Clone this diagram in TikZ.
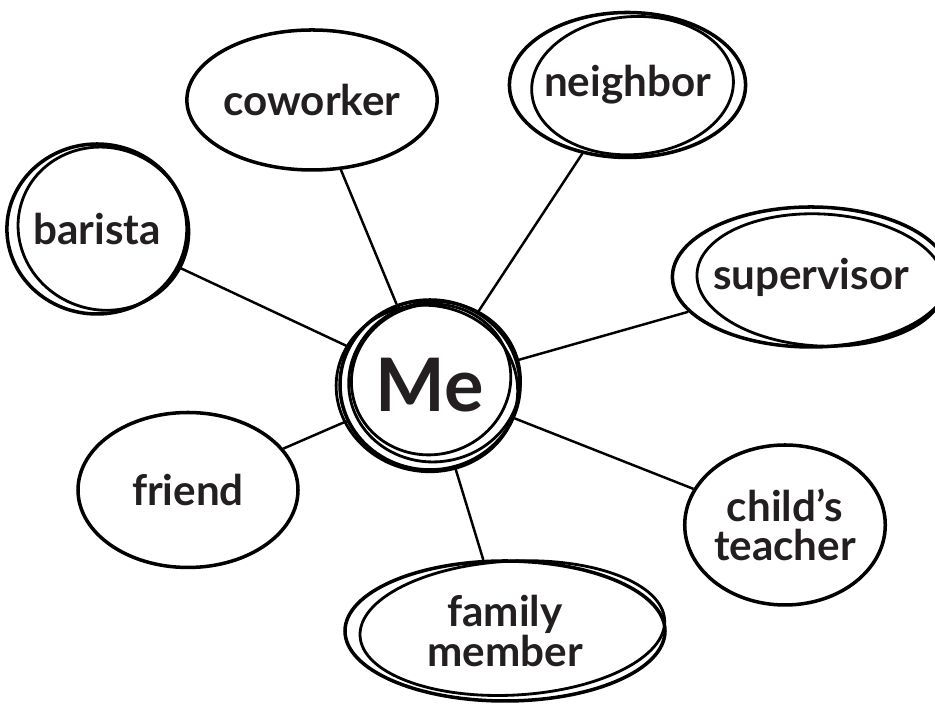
\documentclass[tikz,border=0pt]{standalone}
\usepackage{fontspec}
\setmainfont{Lato}
\usepackage{tikz}
\usetikzlibrary{shapes, positioning}
\definecolor{ink}{HTML}{231F20}

\begin{document}
\begin{tikzpicture}
\tikzstyle{main}=[ellipse, draw=black, line width=2pt, inner sep=0pt, text=ink, font=\bfseries\fontsize{24}{22.5}\selectfont, align=center]
\tikzstyle{ring}=[draw=black, line width=1.6pt]
\tikzstyle{connect}=[draw, line width=1.4pt]
\useasboundingbox (0,0) rectangle (18.7,14.24);
\node[main, minimum width=36mm, minimum height=34mm, font=\bfseries\fontsize{42}{42}\selectfont] (me) at (8.6,6.54) {Me};
\node[main, minimum width=44mm, minimum height=28mm] (coworker) at (6.24,12.24) {coworker};
\node[main, minimum width=42mm, minimum height=29mm] (neighbor) at (12.55,12.54) {neighbor};
\node[main, minimum width=34mm, minimum height=34mm] (barista) at (1.94,9.66) {barista};
\node[main, minimum width=52mm, minimum height=28mm] (supervisor) at (16.22,8.7) {supervisor};
\node[main, minimum width=44mm, minimum height=31mm] (friend) at (3.76,4.44) {friend};
\node[main, minimum width=35mm, minimum height=32mm] (teacher) at (15.7,3.74) {child's\\teacher};
\node[main, minimum width=64mm, minimum height=28mm] (family) at (10.1,1.62) {family\\member};
% sketchy extra strokes
\draw[ring, rotate around={8:(me.center)}] ([shift={(0.1,0.05)}]me.center) ellipse (1.72 and 1.6);
\draw[ring, rotate around={-10:(me.center)}] ([shift={(-0.05,-0.08)}]me.center) ellipse (1.82 and 1.66);
\draw[ring, rotate around={15:(me.center)}] ([shift={(0.05,0.1)}]me.center) ellipse (1.6 and 1.5);
\draw[ring, rotate around={-20:(barista.center)}] ([shift={(0.12,0.05)}]barista.center) ellipse (1.72 and 1.62);
\draw[ring, rotate around={4:(neighbor.center)}] ([shift={(0.1,-0.02)}]neighbor.center) ellipse (2.02 and 1.38);
\draw[ring, rotate around={-3:(supervisor.center)}] ([shift={(0.2,-0.05)}]supervisor.center) ellipse (2.48 and 1.32);
\draw[ring, rotate around={3:(family.center)}] ([shift={(0.15,0.05)}]family.center) ellipse (3.05 and 1.34);
\path
  (me) edge [connect] (coworker)
  (me) edge [connect] (neighbor)
  (me) edge [connect] (barista)
  (me) edge [connect] (supervisor)
  (me) edge [connect] (friend)
  (me) edge [connect] (teacher)
  (me) edge [connect] (family)
;
\end{tikzpicture}
\end{document}
